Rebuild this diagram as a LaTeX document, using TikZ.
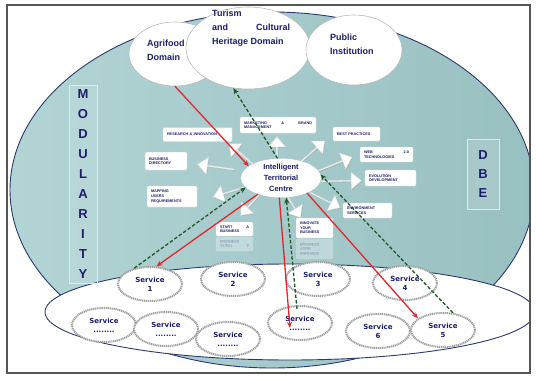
\documentclass[tikz,border=0pt]{standalone}
\usepackage{fontspec}
\setmainfont{Liberation Sans}
\newfontfamily\svcfont{DejaVu Sans}
\usetikzlibrary{shapes.geometric,shapes.arrows,arrows.meta,shadows}
\definecolor{tealA}{HTML}{B2D4D5}
\definecolor{tealB}{HTML}{99C0C1}
\definecolor{navy}{HTML}{1D1F6B}
\definecolor{rim}{HTML}{2C3870}
\definecolor{redl}{HTML}{E3262B}
\definecolor{greenl}{HTML}{1F5A24}
\definecolor{frameg}{HTML}{555555}
\tikzset{
 topell/.style={ellipse, fill=white, draw=gray!55, line width=0.6pt, inner sep=0pt},
 toptxt/.style={font=\bfseries\fontsize{9}{14}\selectfont, text=navy, align=left, inner sep=0pt, anchor=north west},
 letbox/.style={draw=white!55!tealA, fill=white, fill opacity=0.12, text opacity=1, font=\bfseries\fontsize{13}{19.9}\selectfont, text=navy, align=center, inner sep=0pt},
 centre/.style={ellipse, fill=white, inner sep=0pt, minimum width=80pt, minimum height=38pt, font=\bfseries\fontsize{7.5}{11}\selectfont, text=navy, align=center},
 blockarrow/.style={single arrow, fill=white, draw=gray!30, line width=0.4pt, minimum width=17pt, single arrow head extend=3pt, single arrow tip angle=80, inner sep=0pt, drop shadow={shadow xshift=0.8pt, shadow yshift=-0.8pt, opacity=0.25}},
 tbox/.style={fill=white, draw=gray!35, rounded corners=1pt, font=\bfseries\fontsize{3.8}{4.6}\selectfont, text=navy, align=left, inner xsep=4pt, inner ysep=0pt},
 svc/.style={ellipse, fill=white, draw=gray!75, line width=2pt, dash pattern=on 1.2pt off 0.7pt, minimum width=64pt, minimum height=34pt, inner sep=0pt, font=\svcfont\bfseries\fontsize{7}{9}\selectfont, text=navy, align=center},
 redarrow/.style={draw=redl, line width=1.3pt, -{Stealth[length=6pt,width=5pt]}},
 greenarrow/.style={draw=greenl, line width=1.3pt, dash pattern=on 3.5pt off 2pt, -{Stealth[length=6pt,width=5pt]}},
}
\begin{document}
\begin{tikzpicture}[x=1pt,y=-1pt]
\useasboundingbox (0,0) rectangle (536,380);
\fill[white] (0,0) rectangle (536,380);
\begin{scope}
\clip (7,5) rectangle (530,373);
\path[left color=tealA, right color=tealB, draw=rim, line width=0.9pt] (272,190) ellipse [x radius=262, y radius=178];
\path[fill=white, draw=rim, line width=0.9pt] (290,312) ellipse [x radius=245, y radius=48];
\end{scope}

% top domains
\node[topell, minimum width=92pt, minimum height=64pt] (agri) at (175,54) {};
\node[topell, minimum width=124pt, minimum height=82pt] (tur) at (248,48) {};
\node[topell, minimum width=96pt, minimum height=70pt] (pub) at (354,50) {};
\node[toptxt] (agrit) at (147,40) {Agrifood\\Domain};
\node[toptxt] (turt) at (212,10) {Turism\\\hbox to 78pt{and\hfill Cultural}\\Heritage Domain};
\node[toptxt] (pubt) at (330,34) {Public\\Institution};

% side labels
\node[letbox, minimum width=28pt, minimum height=198pt] (mod) at (83,184) {M\\O\\D\\U\\L\\A\\R\\I\\T\\Y};
\node[letbox, minimum width=32pt, minimum height=70pt, font=\bfseries\fontsize{13}{19}\selectfont] (dbe) at (483,174) {D\\B\\E};

% text boxes
\node[tbox, text width=61pt, minimum height=14pt] (res) at (197.5,134.5) {RESEARCH \& INNOVATION};
\node[tbox, text width=68pt, minimum height=16pt] (mkt) at (278,125) {MARKETING\hfill\&\hfill BRAND\\MANAGEMENT};
\node[tbox, text width=39pt, minimum height=14pt] (best) at (356.5,134) {BEST PRACTICES};
\node[tbox, text width=45pt, minimum height=15pt] (web) at (386.5,154.5) {WEB\hfill 2.0\\TECHNOLOGIES};
\node[tbox, text width=43pt, minimum height=16pt] (evo) at (390.5,178) {EVOLUTION\\DEVELOPMENT};
\node[tbox, text width=41pt, minimum height=15pt] (env) at (367.5,210.5) {ENVIRONMENT\\SERVICES};
\node[tbox, text width=29pt, minimum height=20pt] (inn) at (314.5,228) {INNOVATE\\YOUR\\BUSINESS};
\node[tbox, text width=29pt, minimum height=20pt, opacity=0.3, yscale=-1] (innr) at (314.5,249) {INNOVATE\\YOUR\\BUSINESS};
\node[tbox, text width=29pt, minimum height=14pt] (start) at (234.5,229) {START\hfill A\\BUSINESS};
\node[tbox, text width=29pt, minimum height=14pt, opacity=0.3, yscale=-1] (startr) at (234.5,244) {START\hfill A\\BUSINESS};
\node[tbox, text width=34pt, minimum height=18pt] (dir) at (166,161) {BUSINESS\\DIRECTORY};
\node[tbox, text width=42pt, minimum height=21pt] (map) at (172,196.5) {MAPPING\\USERS\\REQUIREMENTS};

% block arrows
\node[blockarrow, minimum height=24pt, rotate=90] (wa1) at (277,149) {};
\node[blockarrow, minimum height=31pt, rotate=140] (wa2) at (241,154) {};
\node[blockarrow, minimum height=37pt, rotate=172] (wa3) at (216,167) {};
\node[blockarrow, minimum height=32pt, rotate=197] (wa4) at (229,192) {};
\node[blockarrow, minimum height=27pt, rotate=228] (wa5) at (250,205) {};
\node[blockarrow, minimum height=24pt, rotate=-59] (wa6) at (294,207) {};
\node[blockarrow, minimum height=33pt, rotate=-27] (wa7) at (325,200) {};
\node[blockarrow, minimum height=40pt, rotate=1] (wa8) at (341,181) {};
\node[blockarrow, minimum height=36pt, rotate=22] (wa9) at (335,164) {};
\node[blockarrow, minimum height=33pt, rotate=41] (wa10) at (312,152) {};

% centre
\node[centre] (itc) at (281,178) {Intelligent\\Territorial\\Centre};

% services
\node[svc] (s1) at (150,284) {Service\\1};
\node[svc] (s2) at (233,279) {Service\\2};
\node[svc] (s3) at (318,279) {Service\\3};
\node[svc] (s4) at (405,283) {Service\\4};
\node[svc] (s5) at (443,330) {Service\\5};
\node[svc] (s6) at (378,331) {Service\\6};
\node[svc] (s7) at (104,325) {Service\\........};
\node[svc] (s8) at (166,329) {Service\\........};
\node[svc] (s9) at (228,339) {Service\\........};
\node[svc] (s10) at (300,323) {Service\\........};

% connectors
\draw[redarrow] (agri.south) -- (itc.160);
\draw[greenarrow] (itc.100) -- (tur.250);
\draw[redarrow] (itc.215) -- (s1.70);
\draw[greenarrow] (s1.135) -- (itc.195);
\draw[redarrow] (itc.265) -- ([xshift=-10pt,yshift=-5pt]s10.center);
\draw[greenarrow] ([xshift=-3pt,yshift=-4pt]s10.north) -- (itc.285);
\draw[redarrow] (itc.330) -- (s5.155);
\draw[greenarrow] (s5.60) -- (itc.5);

% frame
\draw[frameg, line width=1.6pt] (7,5) rectangle (530,373);
\end{tikzpicture}
\end{document}
